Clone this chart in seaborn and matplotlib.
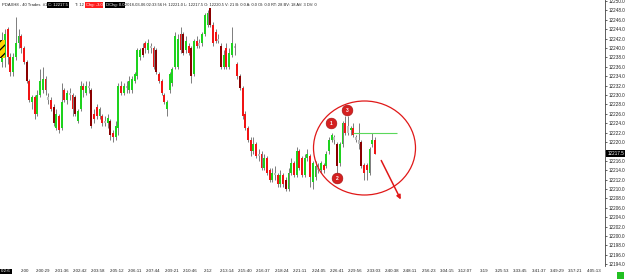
import numpy as np
import pandas as pd
import matplotlib
matplotlib.use("Agg")
import matplotlib.pyplot as plt
import seaborn as sns
from matplotlib.patches import Ellipse, Rectangle
from matplotlib.transforms import blended_transform_factory

sns.set_theme(style="white")
plt.rcParams['font.family'] = ['Liberation Sans', 'DejaVu Sans']
plt.rcParams['hatch.linewidth'] = 0.9

# ---------------- data ----------------
opens = [12237, 12238, 12244, 12238, 12235, 12238, 12241, 12242.5, 12240, 12237,
         12233, 12228.5, 12229.5, 12226, 12230, 12231, 12233.5, 12229.5, 12229, 12227.5,
         12223, 12225.5, 12223, 12231, 12229, 12230.5, 12230, 12229.5, 12224.5, 12227,
         12232, 12230.5, 12232, 12231, 12226, 12227.5, 12225.5, 12225.5, 12224.5, 12224,
         12224.5, 12222, 12221, 12223, 12232, 12230.5, 12232, 12231, 12231, 12233,
         12234, 12238, 12240, 12241, 12239.5, 12240.5, 12240, 12239.5, 12234.5, 12233,
         12230, 12227, 12231, 12232.5, 12236, 12236, 12243, 12243, 12239.5, 12240.5,
         12240, 12234.5, 12241.5, 12240.5, 12241, 12243, 12245, 12248.5, 12245, 12243.5,
         12242, 12240.5, 12236, 12240, 12236, 12238.5, 12240.5, 12236.5, 12234, 12231.5,
         12226, 12223, 12220.5, 12218, 12219.5, 12217, 12217.5, 12214.5, 12216.5, 12214,
         12212, 12213.5, 12213, 12211, 12213, 12212, 12210, 12213.5, 12215.5, 12213,
         12218, 12216.5, 12213, 12216.5, 12217, 12211.5, 12212.5, 12214.5, 12214, 12215,
         12215, 12218, 12220.5, 12221, 12219.5, 12215.5, 12219.5, 12224, 12222, 12222.5,
         12223, 12221, 12220.5, 12220, 12215, 12215, 12213.5, 12219.5, 12220.5]
highs = [12243.5, 12244, 12244.5, 12239, 12239, 12246.5, 12244, 12243, 12240.5, 12237.5,
         12233.5, 12230, 12230, 12231, 12235.5, 12236, 12234, 12230.5, 12229.5, 12228,
         12227, 12226, 12232.5, 12231.5, 12231, 12231.5, 12230.5, 12230, 12227, 12233,
         12232.5, 12233, 12233, 12231.5, 12227, 12228, 12227.5, 12226, 12225.5, 12226,
         12225, 12222.5, 12224.5, 12232.5, 12233, 12232.5, 12233, 12234, 12234, 12235,
         12240, 12240, 12241, 12241.5, 12242, 12241, 12240.5, 12240, 12235, 12233.5,
         12230.5, 12229, 12235, 12236, 12243.5, 12243, 12244.5, 12243.5, 12242.5, 12241,
         12240.5, 12242, 12242.5, 12242, 12243.5, 12247.5, 12248, 12248.5, 12245.5, 12244,
         12243, 12241, 12239.5, 12241, 12240, 12244.5, 12241, 12237, 12234.5, 12232,
         12226.5, 12223.5, 12221, 12221, 12220, 12218.5, 12218, 12217.5, 12217, 12214.5,
         12214.5, 12215, 12213.5, 12214, 12213.5, 12212.5, 12214.5, 12216.5, 12216, 12219,
         12218.5, 12217, 12217.5, 12218.5, 12217.5, 12216, 12216, 12215.5, 12216, 12215.5,
         12218, 12221, 12222, 12221.5, 12220, 12220, 12224.5, 12225.5, 12225.5, 12223.5,
         12224, 12221.5, 12224, 12220.5, 12215.5, 12215.5, 12219, 12222, 12221]
lows = [12236, 12236, 12236.5, 12234, 12234, 12237.5, 12240, 12239, 12236.5, 12232.5,
        12228.5, 12227, 12225, 12225.5, 12229.5, 12230.5, 12230, 12228, 12226.5, 12223.5,
        12222.5, 12222, 12222.5, 12228.5, 12228, 12229, 12225.5, 12225.5, 12224, 12226.5,
        12229.5, 12230, 12230.5, 12223, 12224, 12225, 12225, 12223.5, 12223.5, 12223,
        12220.5, 12220, 12220.5, 12221.5, 12230, 12230, 12230.5, 12230.5, 12230.5, 12232.5,
        12233.5, 12237.5, 12238, 12239, 12239, 12239, 12235.5, 12234.5, 12232.5, 12230,
        12228, 12225.5, 12230.5, 12232, 12235.5, 12235.5, 12239, 12238.5, 12239, 12238.5,
        12232.5, 12234, 12240, 12240, 12240.5, 12242.5, 12244.5, 12244.5, 12240.5, 12241,
        12241, 12235.5, 12235.5, 12235.5, 12235.5, 12238, 12238.5, 12233.5, 12231, 12225,
        12222.5, 12220, 12217, 12217.5, 12216.5, 12216, 12214, 12214, 12213, 12211.5,
        12211.5, 12212, 12210.5, 12210.5, 12210.5, 12209.5, 12209.5, 12213, 12212.5, 12212.5,
        12214, 12212.5, 12212.5, 12216, 12210.5, 12210, 12212, 12213.5, 12213.5, 12213.5,
        12214.5, 12217.5, 12220, 12219.5, 12213.5, 12215, 12219, 12221.5, 12221.5, 12221.5,
        12221, 12220, 12218.5, 12214.5, 12212, 12212, 12213, 12219, 12217.5]
closes = [12241.5, 12243, 12238, 12235, 12238, 12241, 12242.5, 12240, 12237, 12233,
          12229, 12229.5, 12226, 12230, 12233, 12233.5, 12231, 12229, 12227, 12224,
          12226, 12222.5, 12228.5, 12229, 12230.5, 12230, 12227, 12226, 12226.5, 12232,
          12231, 12232, 12231.5, 12223.5, 12225, 12225.5, 12227, 12224, 12224, 12225,
          12221.5, 12221, 12223.5, 12232, 12230.5, 12232, 12231.5, 12233, 12233.5, 12234.5,
          12239.5, 12239.5, 12238.5, 12240, 12241, 12240, 12236, 12235, 12233, 12230.5,
          12228.5, 12228.5, 12234.5, 12235.5, 12242.5, 12242, 12239.5, 12239, 12241.5, 12239,
          12234, 12241.5, 12240.5, 12241, 12243, 12247, 12247.5, 12245, 12241, 12241.5,
          12241.5, 12236, 12238.5, 12236, 12239, 12241, 12240, 12234, 12231.5, 12225.5,
          12223, 12220.5, 12218, 12219.5, 12217, 12217.5, 12214.5, 12216.5, 12213.5, 12212,
          12213.5, 12213, 12211, 12213, 12211, 12210, 12213.5, 12215.5, 12213, 12218,
          12214.5, 12213, 12216.5, 12217.5, 12212.5, 12215.5, 12215, 12214, 12215.5, 12214,
          12217.5, 12220.5, 12221.5, 12220.5, 12215, 12219.5, 12224, 12222, 12223.5, 12223,
          12221.5, 12220.5, 12219.5, 12215, 12213.5, 12214, 12218.5, 12220.5, 12217.5]
# candle colour class: g=up, r=down, d=strong down, k=neutral
kinds = list("ggrrgggrrd" "rgrgggrkrd" "grgrgkrdgg" "rgkdrrgrkg" "drggrgkggg"
             "ggdrgkrdrr" "rgggggrdgr" "dgrkgggdrr" "kdgrggkrdr" "rrrgrkrgrr"
             "gkrgrdggrg" "rrggrggkgr" "gggkdggrkg" "rkkdrrggr")
time_labels = ["2:00", "2:00:29", "2:01:36", "2:02:42", "2:03:58", "2:05:12", "2:06:11",
               "2:07:44", "2:09:21", "2:10:46", "2:12", "2:13:14", "2:15:40", "2:16:37",
               "2:18:24", "2:21:11", "2:24:05", "2:26:41", "2:29:56", "2:33:03", "2:40:38",
               "2:48:11", "2:56:23", "3:04:15", "3:12:07", "3:19", "3:25:53", "3:33:45",
               "3:41:37", "3:49:29", "3:57:21", "4:05:13"]
price_ticks = list(np.arange(12194.0, 12250.5, 2.0))
last_price = 12217.5
level_price = 12222.0
markers = ["1", "2", "3"]
marker_bar = [121.7, 124.0, 127.7]
marker_price = [12224.0, 12212.3, 12226.8]

n = len(opens)
df = pd.DataFrame(dict(bar=np.arange(n), open=opens, high=highs, low=lows,
                       close=closes, kind=kinds[:n]))

W, H = 625, 279
fig = plt.figure(figsize=(W / 100, H / 100), dpi=100)
fig.patch.set_facecolor("white")
ax = fig.add_axes([0, 1 - 266 / H, 605 / W, 266 / H])
ax.set_facecolor("white")

PX = 2.7      # pixels per bar
X0 = 2.3      # pixel of bar 0
PY = 4.7      # pixels per point
ax.set_xlim(-X0 / PX, (605 - X0) / PX)
ax.set_ylim(12250 - 265 / PY, 12250 + 1 / PY)

cmap = {'g': '#1ed21e', 'r': '#f01414', 'd': '#8a0000', 'k': '#bdbdbd'}
ax.vlines(df.bar, df.low, df.high, color='#5a5a5a', lw=0.55, zorder=2)
body_lo = np.minimum(df.open, df.close)
body_h = np.maximum((df.close - df.open).abs(), 0.35)
ax.bar(df.bar, body_h, bottom=body_lo, width=0.72,
       color=[cmap[k] for k in df.kind], linewidth=0, zorder=3)

# right price axis
ax.yaxis.tick_right()
ax.set_yticks(price_ticks)
ax.set_yticklabels(["" if abs(v - 12218) < 0.1 else f"{v:.1f}" for v in price_ticks])
ax.tick_params(axis='y', labelsize=3.3, length=1.5, width=0.5, pad=1,
               colors='#222222', direction='out')
ax.set_xticks([])
for s in ['left', 'top', 'bottom']:
    ax.spines[s].set_visible(False)
ax.spines['right'].set_color('#444444')
ax.spines['right'].set_linewidth(0.6)

# time labels along bottom
label_bars = (25 - X0) / PX + np.arange(len(time_labels)) * (18.35 / PX)
tr = blended_transform_factory(ax.transData, fig.transFigure)
for b, t in zip(label_bars, time_labels):
    ax.text(b, 1 - 271.5 / H, t, transform=tr, fontsize=3.2, ha='center',
            va='center', color='#222222', clip_on=False)
fig.text(1 / W, 1 - 271.5 / H, "0:2:6", fontsize=3.2, color='white', ha='left',
         va='center', bbox=dict(facecolor='black', edgecolor='none', pad=0.6))

# last price box
trp = blended_transform_factory(ax.transAxes, ax.transData)
ax.text(1.004, last_price, f"{last_price:.1f}", transform=trp, fontsize=3.3,
        color='white', ha='left', va='center', zorder=10, clip_on=False,
        bbox=dict(facecolor='black', edgecolor='none', pad=0.7))

# green horizontal level
ax.hlines(level_price, 129.9, 146.2, color='#5ad85a', lw=0.8, zorder=4)

# red ellipse
ax.add_patch(Ellipse(((364.5 - X0) / PX, 12250 - 147 / PY), 102 / PX, 94 / PY,
                     facecolor='none', edgecolor='#e01818', lw=0.9, zorder=5))
# red arrow
ax.annotate("", xy=((402 - X0) / PX, 12250 - 201 / PY),
            xytext=((380 - X0) / PX, 12250 - 157 / PY),
            arrowprops=dict(arrowstyle='-|>', color='#e01818', lw=1.1,
                            mutation_scale=6), zorder=6)
# numbered markers
sns.scatterplot(x=marker_bar, y=marker_price, s=60, color='#d42020',
                edgecolor='#a01010', linewidth=0.4, ax=ax, zorder=7, legend=False)
for b, p, t in zip(marker_bar, marker_price, markers):
    ax.text(b, p, t, fontsize=3.6, color='white', ha='center', va='center',
            fontweight='bold', zorder=8)

# header
hy = 1 - 5 / H
fs_h = 3.0
fig.text(2 / W, hy, "PDAXH8 - 40 Trades  #1", fontsize=fs_h, color='#222222',
         va='center', ha='left')
fig.text(48 / W, hy, "C: 12217.5", fontsize=fs_h, color='white', va='center',
         ha='left', bbox=dict(facecolor='black', edgecolor='none', pad=0.5))
fig.text(75 / W, hy, "T: 12", fontsize=fs_h, color='#222222', va='center', ha='left')
fig.text(86 / W, hy, "Chg: -3.0", fontsize=fs_h, color='white', va='center',
         ha='left', bbox=dict(facecolor='#ff1e1e', edgecolor='none', pad=0.5))
fig.text(106 / W, hy, "DChg: 0.0", fontsize=fs_h, color='white', va='center',
         ha='left', bbox=dict(facecolor='black', edgecolor='none', pad=0.5))
fig.text(125 / W, hy, "2018-03-06 02:33:56 H: 12221.0 L: 12217.5 O: 12220.5 V: 21 "
         "B: 0.0 A: 0.0 OI: 0.0 RT: 28 BV: 18 AV: 3 DV: 0", fontsize=2.85,
         color='#222222', va='center', ha='left')

# left yellow hatched marker
fig.patches.append(Rectangle((0, 1 - 58 / H), 5 / W, 18 / H, transform=fig.transFigure,
                             facecolor='#ffd400', edgecolor='black', hatch='////',
                             lw=0, zorder=9))
# bottom-right green box
fig.patches.append(Rectangle((617 / W, 0), 7 / W, 7 / H, transform=fig.transFigure,
                             facecolor='#22c022', edgecolor='none', zorder=9))
fig.text(620.5 / W, 3.5 / H, "3", fontsize=3, color='#111111', ha='center', va='center')

fig.savefig("out.png", dpi=100, facecolor='white')
